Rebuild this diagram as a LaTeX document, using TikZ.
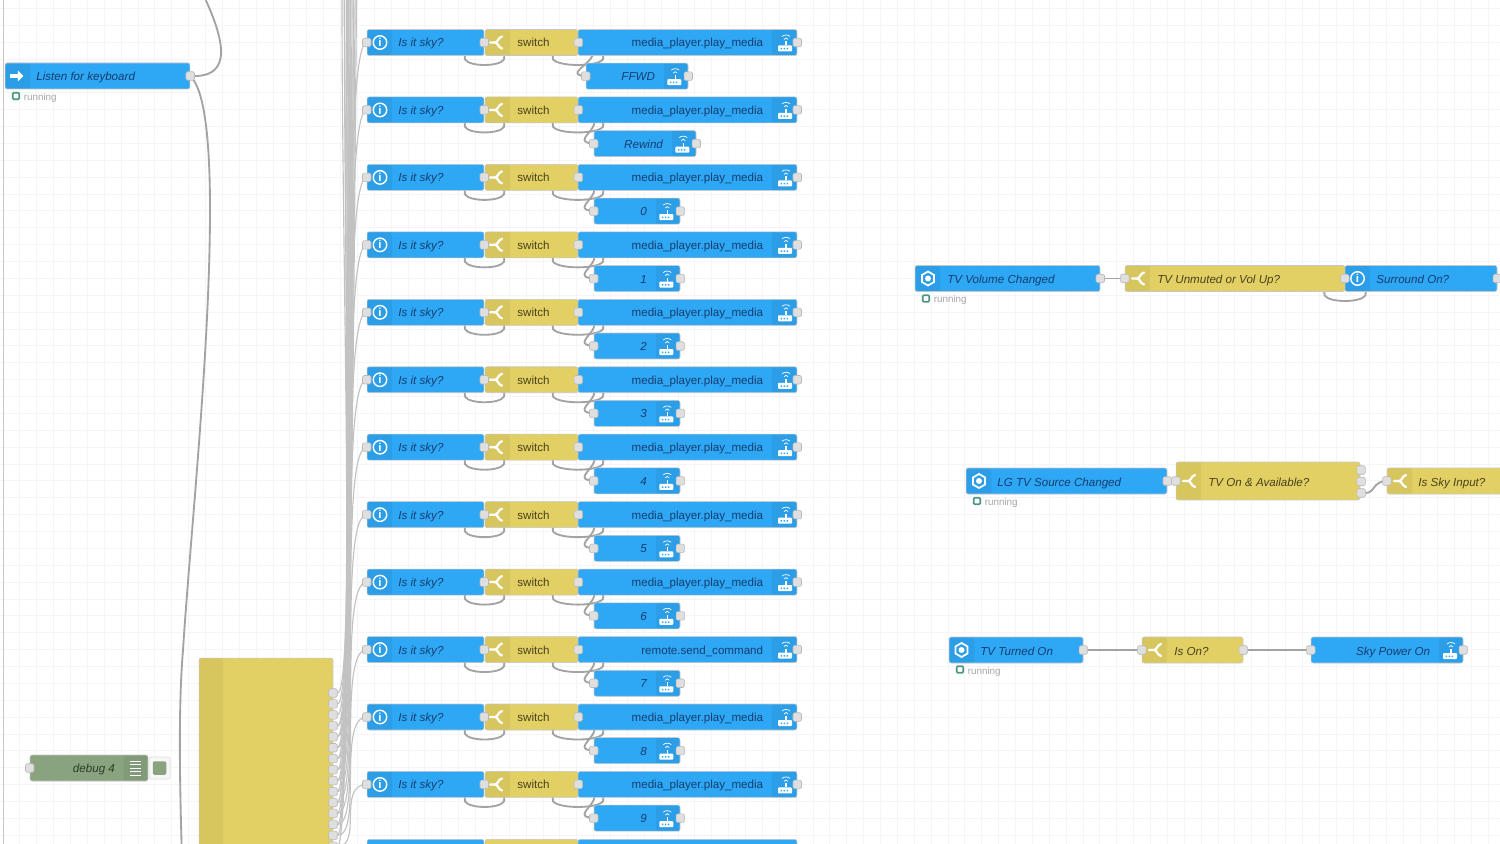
\documentclass[tikz,border=0pt]{standalone}
\usepackage{fontspec}
\setmainfont{Liberation Sans}
\usepackage{tikz}
\usetikzlibrary{arrows.meta}
\usetikzlibrary{backgrounds}

\definecolor{flowblue}{RGB}{46,167,244}
\definecolor{flowyellow}{RGB}{227,208,100}
\definecolor{flowsage}{RGB}{136,163,126}
\definecolor{bluetext}{RGB}{22,62,112}
\definecolor{yellowtext}{RGB}{72,66,30}
\definecolor{sagetext}{RGB}{44,62,44}
\definecolor{gridtint}{RGB}{246,244,248}
\definecolor{statustint}{RGB}{78,150,132}

\tikzset{
  flownode/.style={rounded corners=1.2pt, draw=gray!45, line width=0.3pt, inner sep=0, minimum height=0.52cm},
  bluenode/.style={flownode, fill=flowblue},
  yellownode/.style={flownode, fill=flowyellow},
  sagenode/.style={flownode, fill=flowsage},
  lefttab/.style={path picture={\fill[black, opacity=0.05] (path picture bounding box.south west) rectangle ([xshift=#1 cm]path picture bounding box.north west);}},
  righttab/.style={path picture={\fill[black, opacity=0.05] (path picture bounding box.south east) rectangle ([xshift=-#1 cm]path picture bounding box.north east);}},
  portbox/.style={draw=gray!55, fill=gray!25, rounded corners=0.8pt, line width=0.3pt, minimum size=0.17cm, inner sep=0},
  wire/.style={draw=gray!72, line width=1.05pt},
  buswire/.style={draw=gray!48, line width=0.65pt},
  bluetxt/.style={text=bluetext, font=\fontsize{6.6}{8}\selectfont\itshape, inner sep=0, anchor=west, text height=0.17cm, text depth=0.05cm, yshift=-0.03cm},
  yellowtxt/.style={text=yellowtext, font=\fontsize{6.6}{8}\selectfont\itshape, inner sep=0, anchor=west, text height=0.17cm, text depth=0.05cm, yshift=-0.03cm},
  runtxt/.style={text=gray!70, font=\fontsize{5.6}{7}\selectfont, inner sep=0, anchor=west, text height=0.14cm, text depth=0.04cm, yshift=-0.02cm},
  statusbox/.style={draw=statustint, line width=0.9pt, rounded corners=0.6pt, minimum size=0.13cm, inner sep=0},
  infoicon/.style={circle, draw=white, line width=0.8pt, minimum size=0.27cm, inner sep=0, text=white, font=\fontsize{6.5}{7}\selectfont\bfseries},
  pics/forkicon/.style={code={
    \draw[white, line width=1.3pt, line cap=round] (-6,0) -- (-1,0) .. controls (2,0) and (2,-5) .. (6,-6);
    \draw[white, line width=1.3pt, line cap=round] (-1,0) .. controls (2,0) and (2,5) .. (6,6);
  }},
  pics/routericon/.style={code={
    \fill[white, rounded corners=0.5pt] (-7,3) rectangle (7,9);
    \draw[white, line width=0.8pt] (1,3) -- (1,-1);
    \draw[white, line width=0.4pt] (-1,-3) .. controls (0,-5) and (2,-5) .. (3,-3);
    \draw[white, line width=0.4pt] (-3,-6) .. controls (-1,-8) and (3,-8) .. (5,-6);
    \fill[flowblue] (-4.5,5.5) rectangle (-3,7) (-1.5,5.5) rectangle (0,7) (1.5,5.5) rectangle (3,7);
  }},
  pics/hexicon/.style={code={
    \draw[white, line width=1pt] (30:7) -- (90:7) -- (150:7) -- (210:7) -- (270:7) -- (330:7) -- cycle;
    \fill[white] (0,0) circle [radius=3];
  }}
}

\def\mpm{media\_player.play\_media}

\begin{document}
\begin{tikzpicture}[x=0.02cm, y=-0.02cm]
  \useasboundingbox (0,0) rectangle (1500,844);
  \begin{scope}[on background layer]
    \fill[white] (0,0) rectangle (1500,844);
    \foreach \gx in {0,...,89} \draw[gridtint, line width=0.5pt] ({3+16.875*\gx},0) -- ({3+16.875*\gx},844);
    \foreach \gy in {0,...,50} \draw[gridtint, line width=0.5pt] (0,{8.4+16.875*\gy}) -- (1500,{8.4+16.875*\gy});
  \end{scope}

  % the twelve rows, and the start of the next one at the bottom edge
  \foreach \i/\act/\lbl/\subx/\subw in {
      1/\mpm/FFWD/637/2.04, 2/\mpm/Rewind/645/2.04, 3/\mpm/0/637/1.72, 4/\mpm/1/637/1.72,
      5/\mpm/2/637/1.72, 6/\mpm/3/637/1.72, 7/\mpm/4/637/1.72, 8/\mpm/5/637/1.72,
      9/\mpm/6/637/1.72, 10/remote.send\_command/7/637/1.72, 11/\mpm/8/637/1.72, 12/\mpm/9/637/1.72} {
    \pgfmathsetmacro{\y}{42.5+67.45*(\i-1)}
    \pgfmathsetmacro{\suby}{\y+33.7}
    \node [bluenode, lefttab=0.5, minimum width=2.34cm] (sky\i) at (425.5,\y) {};
    \node [yellownode, lefttab=0.5, minimum width=1.86cm] (sw\i) at (531.5,\y) {};
    \node [bluenode, righttab=0.5, minimum width=4.38cm] (act\i) at (687.5,\y) {};
    \node [bluenode, righttab=0.48, minimum width=\subw cm] (sub\i) at (\subx,\suby) {};

    \node [infoicon] (info\i) at (380,\y) {i};
    \node [bluetxt] (skytxt\i) at (398,\y) {Is it sky?};
    \pic at (496,\y) {forkicon};
    \node [yellowtxt, font=\fontsize{6.6}{8}\selectfont] (swtxt\i) at (517,\y) {switch};
    \node [bluetxt, font=\fontsize{6.6}{8}\selectfont, anchor=east] (acttxt\i) at (763.5,\y) {\act};
    \pic at (785,\y) {routericon};
    \node [bluetxt, anchor=east] (subtxt\i) at ([xshift=-0.66cm]sub\i.east) {\lbl};
    \pic at ([xshift=-0.28cm]sub\i.east) {routericon};

    \node [portbox] (skyin\i) at (sky\i.west) {};
    \node [portbox] (skyout\i) at (sky\i.east) {};
    \node [portbox] (swout\i) at (sw\i.east) {};
    \node [portbox] (actout\i) at (act\i.east) {};
    \node [portbox] (subin\i) at (sub\i.west) {};
    \node [portbox] (subout\i) at (sub\i.east) {};

    \begin{scope}[on background layer]
      \draw [wire] (sky\i.east) .. controls +(70,30) and +(-70,30) .. (sw\i.west);
      \draw [wire] (sw\i.east) .. controls +(88,30) and +(-88,30) .. (act\i.west);
      \draw [wire] (sw\i.east) .. controls +(42,12) and +(-30,-2) .. (sub\i.west);
    \end{scope}
  }
  \node [bluenode, minimum width=2.34cm] (sky13) at (425.5,852.4) {};
  \node [yellownode, minimum width=1.86cm] (sw13) at (531.5,852.4) {};
  \node [bluenode, minimum width=4.38cm] (act13) at (687.5,852.4) {};

  % left part
  \node [bluenode, lefttab=0.5, minimum width=3.7cm] (listen) at (97.5,76) {};
  \draw [white, line width=1.8pt, -{Triangle[length=3.2pt,width=6.2pt]}] (10,76) -- (23.5,76);
  \node [bluetxt] (listentxt) at (36,76) {Listen for keyboard};
  \node [portbox] (listenout) at (listen.east) {};
  \node [statusbox] (listenstat) at (16,96) {};
  \node [runtxt] (listenrun) at (23.5,97) {running};

  \node [sagenode, righttab=0.48, minimum width=2.36cm] (debug) at (89,768) {};
  \node [bluetxt, text=sagetext, anchor=east] (debugtxt) at ([xshift=-0.66cm]debug.east) {debug 4};
  \foreach \dy in {-7,-3.5,0,3.5,7} \draw [white, line width=0.5pt] (130,768+\dy) -- (141,768+\dy);
  \node [portbox] (debugin) at (debug.west) {};
  \node [draw=gray!25, fill=gray!6, rounded corners=0.8pt, line width=0.4pt, minimum width=0.42cm, minimum height=0.44cm, inner sep=0] (debugbtn) at (159.5,768) {};
  \node [fill=flowsage, rounded corners=0.8pt, minimum size=0.27cm, inner sep=0] (debugsq) at (debugbtn) {};

  \node [yellownode, lefttab=0.48, minimum width=2.68cm, minimum height=4.88cm] (big) at (266,780) {};
  \foreach \k in {1,...,15} {
    \pgfmathsetmacro{\py}{693+10.95*(\k-1)}
    \node [portbox] (bigout\k) at (333,\py) {};
  }

  \coordinate (edgetop) at (3.5,-10);
  \coordinate (edgebot) at (3.5,860);
  \coordinate (keytop) at (202,-8);
  \coordinate (keybot) at (182,860);
  \begin{scope}[on background layer]
    \draw [wire, gray!45] (edgetop) -- (edgebot);
    \draw [wire] (listen.east) .. controls (228,78) and (230,50) .. (keytop);
    \draw [wire] (listen.east) .. controls (203,88) and (210,130) .. (210,210)
      .. controls (210,350) and (190,540) .. (183,650)
      .. controls (178,710) and (180,790) .. (keybot);
    % the bundle from the tall node
    \foreach \k/\tk in {4/1,5/2,6/3,7/4,8/5,9/6,10/7,11/8,12/9,13/10,14/11,15/12}
      \draw [buswire] (bigout\k) .. controls +(30,0) and +(-30,0) .. (sky\tk.west);
    \foreach \k/\up/\upx in {1/-200/354,2/-260/357,3/-320/360,4/-380/363,5/-440/366,6/-500/369,7/-560/372,8/-620/375,9/-680/378,10/-740/355,11/-800/361,12/-860/367,13/-920/373,14/-980/358,15/-1040/364} {
      \coordinate (busup\k) at (\upx,\up);
      \draw [buswire] (bigout\k) .. controls +(30,0) and +(-30,0) .. (busup\k);
    }
  \end{scope}

  % right part, top chain
  \node [bluenode, lefttab=0.5, minimum width=3.7cm] (tvvol) at (1007.5,278.5) {};
  \pic at (928,278.5) {hexicon};
  \node [bluetxt] (tvvoltxt) at (947,279) {TV Volume Changed};
  \node [yellownode, lefttab=0.5, minimum width=4.4cm] (tvup) at (1235,278.5) {};
  \pic at (1138,278.5) {forkicon};
  \node [yellowtxt] (tvuptxt) at (1157,279) {TV Unmuted or Vol Up?};
  \node [bluenode, lefttab=0.5, minimum width=3.04cm] (surr) at (1421,278.5) {};
  \node [infoicon] (surricon) at (1357.5,278.5) {i};
  \node [bluetxt] (surrtxt) at (1376,279) {Surround On?};
  \node [portbox] (tvvolout) at (tvvol.east) {};
  \node [portbox] (tvupin) at (tvup.west) {};
  \node [portbox] (surrin) at (surr.west) {};
  \node [portbox] (surrout) at (surr.east) {};
  \node [statusbox] (tvvolstat) at (926,298.5) {};
  \node [runtxt] (tvvolrun) at (933.5,299.5) {running};

  % right part, middle chain
  \node [bluenode, lefttab=0.5, minimum width=4.02cm] (lgtv) at (1066.5,481) {};
  \pic at (979,481) {hexicon};
  \node [bluetxt] (lgtvtxt) at (997,481.5) {LG TV Source Changed};
  \node [yellownode, lefttab=0.5, minimum width=3.68cm, minimum height=0.76cm] (tvon) at (1268,481) {};
  \pic at (1189,481) {forkicon};
  \node [yellowtxt] (tvontxt) at (1208,481.5) {TV On \& Available?};
  \node [yellownode, lefttab=0.5, minimum width=2.92cm] (skyinput) at (1460,481) {};
  \pic at (1400,481) {forkicon};
  \node [yellowtxt] (skyinputtxt) at (1418,481.5) {Is Sky Input?};
  \node [portbox] (lgtvout) at (lgtv.east) {};
  \node [portbox] (tvonin) at (tvon.west) {};
  \node [portbox] (tvona) at (1361,470) {};
  \node [portbox] (tvonb) at (1361,481.5) {};
  \node [portbox] (tvonc) at (1361,493) {};
  \node [portbox] (skyinputin) at (skyinput.west) {};
  \node [statusbox] (lgtvstat) at (977,501) {};
  \node [runtxt] (lgtvrun) at (984.5,502) {running};

  % right part, bottom chain
  \node [bluenode, lefttab=0.5, minimum width=2.68cm] (tvturn) at (1016,650) {};
  \pic at (961.5,650) {hexicon};
  \node [bluetxt] (tvturntxt) at (980,650.5) {TV Turned On};
  \node [yellownode, lefttab=0.5, minimum width=2.02cm] (ison) at (1192.5,650) {};
  \pic at (1155,650) {forkicon};
  \node [yellowtxt] (isontxt) at (1174,650.5) {Is On?};
  \node [bluenode, righttab=0.48, minimum width=3.04cm] (skypower) at (1387,650) {};
  \node [bluetxt, anchor=east] (skypowertxt) at (1430.5,650.5) {Sky Power On};
  \pic at (1450,650) {routericon};
  \node [portbox] (tvturnout) at (tvturn.east) {};
  \node [portbox] (isonin) at (ison.west) {};
  \node [portbox] (isonout) at (ison.east) {};
  \node [portbox] (skypowerin) at (skypower.west) {};
  \node [portbox] (skypowerout) at (skypower.east) {};
  \node [statusbox] (tvturnstat) at (960,669.5) {};
  \node [runtxt] (tvturnrun) at (967.5,670.5) {running};

  \begin{scope}[on background layer]
    \draw [wire] (tvvol.east) -- (tvup.west);
    \draw [wire] (tvup.east) .. controls +(72,30) and +(-72,30) .. (surr.west);
    \draw [wire] (lgtv.east) -- (tvon.west);
    \draw [wire] (tvonc) .. controls +(14,0) and +(-14,0) .. (skyinput.west);
    \draw [wire] (tvturn.east) -- (ison.west);
    \draw [wire] (ison.east) -- (skypower.west);
  \end{scope}
\end{tikzpicture}
\end{document}
